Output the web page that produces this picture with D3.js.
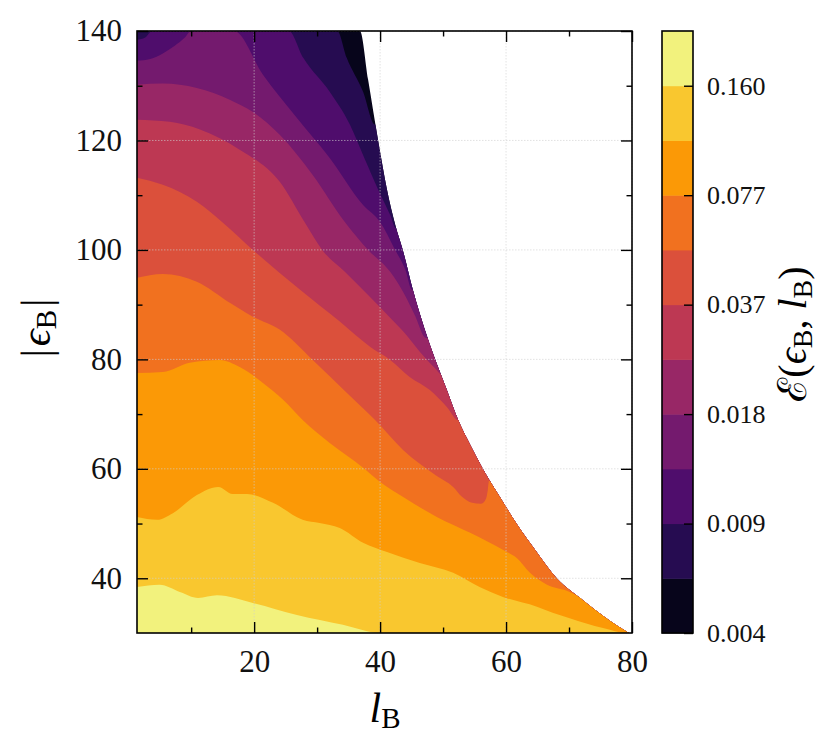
<!DOCTYPE html>
<html>
<head>
<meta charset="utf-8">
<script src="https://cdn.jsdelivr.net/npm/d3@7"></script>
<style>
  body { margin: 0; background: #fff; }
  svg text { font-family: "Liberation Serif", "DejaVu Serif", serif; }
</style>
</head>
<body>
<div id="chart"></div>
<script>
// contour levels of E(eps_B, l_B) (geometric spacing)
var levels = [0.00413, 0.00595, 0.00858, 0.01237, 0.01783, 0.02570, 0.03705, 0.05341, 0.0770, 0.11099, 0.160, 0.23064];

var xTicks = [20, 40, 60, 80],
    xMinor = [10, 30, 50, 70],
    yTicks = [40, 60, 80, 100, 120, 140],
    yMinor = [50, 70, 90, 110, 130];

// right-hand limit of the data (white area beyond it), [l_B, |eps_B|]
var edgeLine = [[36.8,140],[38.1,131.1],[39.7,119.9],[41.1,111.0],[42.4,104.6],[43.6,100.0],[45.2,92.7],
  [47.1,85.4],[48.7,80.1],[50.6,74.4],[52.4,68.9],[54.3,64.4],[56.3,60.0],[59.8,53.4],[61.7,49.9],
  [64.6,45.2],[68.1,39.9],[72.2,36.0],[75.7,32.9],[79.5,30]];

// contour lines, c_k separates band k-1 (above) from band k (below)
var c1 = [[1.4,140],[33.2,140],[34.7,135.1],[37.3,128.9],[39.2,122.9]];
var c2 = [[1.4,138.4],[2.7,138.8],[3.8,140],[25.5,140],[27.8,135.1],[32.0,128.9],[35.2,122.9],[37.6,116.5],
  [39.7,111.0],[41.6,106.4],[42.5,104.0]];
var c3 = [[1.4,134.6],[3.5,134.9],[5.5,135.9],[7.4,137.3],[9.0,138.8],[10.0,140],[16.8,140],[21.4,132.0],
  [26.8,124.1],[32.0,116.8],[37.3,108.2],[40.0,105.1],[42.4,100.0],[44.0,96.4],[45.1,92.7]];
var c4 = [[1.4,130.2],[5.5,130.4],[10.9,129.6],[16.2,127.4],[19.8,125.2],[24.1,121.0],[29.3,113.7],
  [34.4,105.1],[38.1,100.0],[41.6,96.0],[43.9,91.8],[45.5,88.1],[47.3,83.9]];
var c5 = [[1.4,123.8],[6.6,123.4],[11.4,122.0],[17.7,118.3],[24.1,112.4],[28.0,105.1],[30.8,100.0],
  [34.4,96.0],[38.4,91.4],[41.6,87.6],[43.9,84.8],[46.3,81.4],[48.7,78.4],[49.8,77.2]];
var c6 = [[1.4,113.2],[5.5,111.9],[10.9,108.8],[14.9,105.1],[19.8,100.0],[27.3,92.7],[33.6,86.9],
  [38.4,82.3],[41.6,79.9],[44.7,76.8],[47.9,74.4],[50.6,71.3],[52.4,68.9]];
var c7 = [[1.4,94.9],[5.5,95.6],[10.9,94.2],[16.2,90.3],[19.8,87.8],[24.1,85.4],[29.3,79.9],[34.7,73.9],
  [39.2,68.9],[43.6,63.5],[49.0,58.7],[51.6,56.7],[53.0,54.9],[54.6,53.8],[56.0,53.6],[56.8,54.5],
  [57.1,56.1],[57.3,57.8]];
var c8 = [[1.4,77.5],[5.5,77.7],[9.8,79.4],[14.6,79.9],[17.7,78.6],[21.4,75.7],[24.6,72.6],[27.7,68.9],
  [32.0,64.7],[37.3,60.2],[40.0,57.6],[43.6,54.9],[49.0,51.2],[54.3,48.3],[59.5,45.2],[61.7,43.7],
  [63.8,41.0],[66.5,38.8],[70.1,37.5],[72.8,35.7],[73.3,35.1]];
var c9 = [[1.4,51.2],[4.6,50.7],[7.1,51.9],[10.9,55.2],[14.3,56.7],[16.6,55.4],[18.9,55.4],[23.0,53.8],
  [27.7,50.7],[30.4,50.1],[33.6,49.2],[37.3,46.5],[41.1,44.8],[46.3,42.8],[51.6,41.0],[55.8,38.4],
  [59.5,36.6],[64.9,34.8],[67.4,33.7],[70.1,32.7],[75.4,30.9],[79.2,30]];
var c10 = [[1.4,38.4],[5.0,38.8],[8.2,37.5],[11.1,36.4],[14.1,36.9],[19.8,35.5],[26.8,33.3],[34.1,31.5],[40.0,30]];

var contourLines = [c1, c2, c3, c4, c5, c6, c7, c8, c9, c10];

var serif = '"Liberation Serif", "DejaVu Serif", serif';

// set the dimensions and margins of the graph
var margin = {top: 31, left: 137},
    width = 495,
    height = 602;

var x = d3.scaleLinear().domain([1.4, 80]).range([0, width]);
var y = d3.scaleLinear().domain([30, 140]).range([height, 0]);

// colour of each band: inferno at the (log-normalised) middle of the band
var cnorm = d3.scaleLog().domain([levels[0], levels[levels.length - 1]]).range([0, 1]);
var bandColor = d3.range(levels.length - 1).map(function(i) {
  return d3.interpolateInferno(cnorm((levels[i] + levels[i + 1]) / 2));
});

var svg = d3.select("#chart").append("svg")
    .attr("width", 832)
    .attr("height", 747);

var g = svg.append("g")
    .attr("transform", "translate(" + margin.left + "," + margin.top + ")");

var area = d3.area()
    .x(function(d) { return x(d[0]); })
    .y0(height)
    .y1(function(d) { return y(d[1]); })
    .curve(d3.curveMonotoneX);

// region where the data exists
svg.append("defs").append("clipPath").attr("id", "valid")
  .append("path")
    .attr("d", area([[x.domain()[0], 140]].concat(edgeLine)));

var bands = g.append("g").attr("clip-path", "url(#valid)");

bands.append("rect")
    .attr("width", width)
    .attr("height", height)
    .style("fill", bandColor[0]);

contourLines.forEach(function(line, k) {
  var last = line[line.length - 1];
  bands.append("path")
      .attr("d", area(line.concat([[last[0] + 40, last[1]]])))
      .style("fill", bandColor[k + 1]);
});

// dotted grid
var grid = g.append("g")
    .style("stroke", "#cfcfcf")
    .style("stroke-opacity", 0.6)
    .style("stroke-width", 1)
    .style("stroke-dasharray", "1.5,1.5");
grid.selectAll(".vx").data(xTicks).enter().append("line")
    .attr("x1", function(d) { return x(d); }).attr("x2", function(d) { return x(d); })
    .attr("y1", 0).attr("y2", height);
grid.selectAll(".hy").data(yTicks).enter().append("line")
    .attr("x1", 0).attr("x2", width)
    .attr("y1", function(d) { return y(d); }).attr("y2", function(d) { return y(d); });

function styleAxis(sel, size) {
  sel.attr("font-family", serif).attr("font-size", size);
  sel.select(".domain").remove();
  sel.selectAll(".tick line").style("stroke", "#000").style("stroke-width", 1.4);
  sel.selectAll(".tick text")
      .attr("fill", "#111")
      .style("font-family", serif)
      .style("font-size", size + "px");
}

var major = 11, minor = 5.5;

g.append("g").attr("transform", "translate(0," + height + ")")
    .call(d3.axisBottom(x).tickValues(xTicks).tickSize(-major).tickPadding(17))
    .call(styleAxis, 31);
g.append("g").attr("transform", "translate(0," + height + ")")
    .call(d3.axisBottom(x).tickValues(xMinor).tickSize(-minor).tickFormat(""))
    .call(styleAxis, 31);
g.append("g")
    .call(d3.axisTop(x).tickValues(xTicks).tickSize(-major).tickFormat(""))
    .call(styleAxis, 31);
g.append("g")
    .call(d3.axisTop(x).tickValues(xMinor).tickSize(-minor).tickFormat(""))
    .call(styleAxis, 31);
g.append("g")
    .call(d3.axisLeft(y).tickValues(yTicks).tickSize(-major).tickPadding(15))
    .call(styleAxis, 31);
g.append("g")
    .call(d3.axisLeft(y).tickValues(yMinor).tickSize(-minor).tickFormat(""))
    .call(styleAxis, 31);
g.append("g").attr("transform", "translate(" + width + ",0)")
    .call(d3.axisRight(y).tickValues(yTicks).tickSize(-major).tickFormat(""))
    .call(styleAxis, 31);
g.append("g").attr("transform", "translate(" + width + ",0)")
    .call(d3.axisRight(y).tickValues(yMinor).tickSize(-minor).tickFormat(""))
    .call(styleAxis, 31);

g.append("rect")
    .attr("width", width)
    .attr("height", height)
    .style("fill", "none")
    .style("stroke", "#000")
    .style("stroke-width", 1.6);

// axis labels
var xl = svg.append("text")
    .attr("x", 385).attr("y", 722)
    .attr("text-anchor", "middle")
    .style("font-size", "42px");
xl.append("tspan").style("font-style", "italic").text("l");
xl.append("tspan").attr("dy", 6).style("font-size", "29px").text("B");

var yl = svg.append("text")
    .attr("transform", "translate(50,328) rotate(-90)")
    .attr("text-anchor", "middle")
    .style("font-size", "42px");
yl.append("tspan").text("|");
yl.append("tspan").attr("dx", 3).style("font-style", "italic").text("\u03f5");
yl.append("tspan").attr("dy", 6).style("font-size", "29px").text("B");
yl.append("tspan").attr("dx", 3).attr("dy", -6).text("|");

// colorbar
var cb = svg.append("g").attr("transform", "translate(662," + margin.top + ")");
var cbW = 31;
var cy = d3.scaleLog().domain([levels[0], levels[levels.length - 1]]).range([height, 0]);

cb.selectAll(".cbar")
    .data(d3.range(levels.length - 1))
  .enter().append("rect")
    .attr("class", "cbar")
    .attr("x", 0)
    .attr("width", cbW)
    .attr("y", function(i) { return cy(levels[i + 1]); })
    .attr("height", function(i) { return cy(levels[i]) - cy(levels[i + 1]) + 0.5; })
    .style("fill", function(i) { return bandColor[i]; });

cb.append("g").attr("transform", "translate(" + cbW + ",0)")
    .call(d3.axisRight(cy)
      .tickValues(levels.filter(function(d, i) { return i % 2 === 0 && i < levels.length - 1; }))
      .tickFormat(d3.format(".3f"))
      .tickSize(-9).tickPadding(14))
    .call(styleAxis, 26);

cb.append("rect")
    .attr("width", cbW)
    .attr("height", height)
    .style("fill", "none")
    .style("stroke", "#000")
    .style("stroke-width", 1.6);

var cl = svg.append("text")
    .attr("transform", "translate(806,334) rotate(-90)")
    .attr("text-anchor", "middle")
    .style("font-size", "40px");
cl.append("tspan").text("\u2130(");
cl.append("tspan").style("font-style", "italic").text("\u03f5");
cl.append("tspan").attr("dy", 6).style("font-size", "28px").text("B");
cl.append("tspan").attr("dy", -6).text(", ");
cl.append("tspan").style("font-style", "italic").text("l");
cl.append("tspan").attr("dy", 6).style("font-size", "28px").text("B");
cl.append("tspan").attr("dy", -6).text(")");
</script>
</body>
</html>
